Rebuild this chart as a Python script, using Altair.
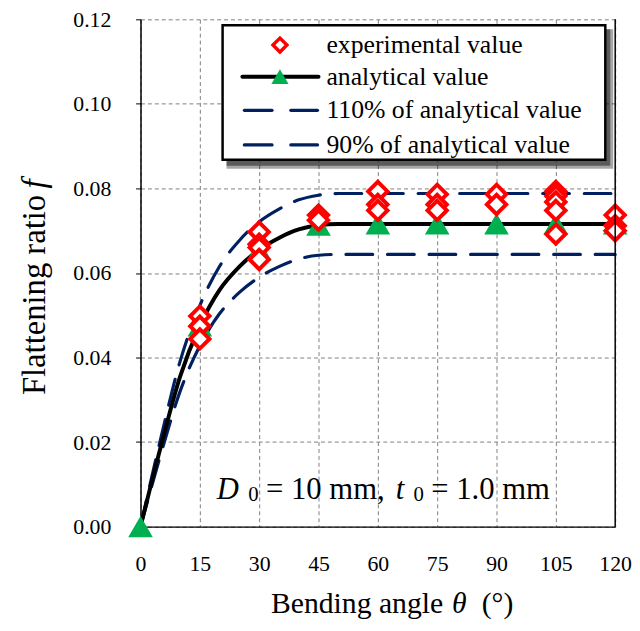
import altair as alt
import pandas as pd

# ---------------- data ----------------
theta_exp = [15, 15, 15, 30, 30, 30, 30, 45, 45, 60, 60, 60, 75, 75, 75,
             90, 90, 105, 105, 105, 105, 105, 120, 120, 120]
f_exp = [0.0498, 0.0474, 0.0444, 0.0697, 0.0668, 0.0660, 0.0632, 0.0737, 0.0725,
         0.0793, 0.0762, 0.0748, 0.0786, 0.0762, 0.0748, 0.0786, 0.0762,
         0.0793, 0.0782, 0.0768, 0.0748, 0.0692, 0.0737, 0.0712, 0.0700]

theta_curve = [0, 5, 10, 15, 20, 25, 30, 35, 40, 45, 50, 55, 60, 75, 90, 105, 120]
f_analytical = [0.0, 0.0185, 0.0355, 0.0475, 0.0560, 0.0615, 0.0655, 0.0683, 0.0703,
                0.0713, 0.0716, 0.0716, 0.0716, 0.0716, 0.0716, 0.0716, 0.0716]
f_110 = [0.0, 0.0204, 0.0391, 0.0523, 0.0616, 0.0677, 0.0721, 0.0751, 0.0773,
         0.0784, 0.0788, 0.0788, 0.0788, 0.0788, 0.0788, 0.0788, 0.0788]
f_90 = [0.0, 0.0167, 0.0320, 0.0428, 0.0504, 0.0554, 0.0590, 0.0615, 0.0633,
        0.0642, 0.0644, 0.0644, 0.0644, 0.0644, 0.0644, 0.0644, 0.0644]

theta_tri = [0, 15, 30, 45, 60, 75, 90, 105, 120]
f_tri = [0.0, 0.0475, 0.0655, 0.0713, 0.0716, 0.0716, 0.0716, 0.0716, 0.0716]

x_ticks = [0, 15, 30, 45, 60, 75, 90, 105, 120]
y_ticks = [0.00, 0.02, 0.04, 0.06, 0.08, 0.10, 0.12]

legend_labels = ["experimental value", "analytical value",
                 "110% of analytical value", "90% of analytical value"]

FONT = "Liberation Serif, Times New Roman, serif"
NAVY = "#002060"
GREEN = "#00B050"
RED = "#FF0000"

W, H = 480, 513

xs = alt.Scale(domain=[0, 120], nice=False, zero=False)
ys = alt.Scale(domain=[0, 0.12], nice=False, zero=False)

x_axis = alt.Axis(values=x_ticks, grid=True, gridDash=[4, 3], gridColor="#7f7f7f",
                  gridWidth=1, domainColor="black", domainWidth=1.5, ticks=False,
                  labelFont=FONT, labelFontSize=22, labelColor="black",
                  labelPadding=27, title=None, labelFlush=False)
y_axis = alt.Axis(values=y_ticks, format=".2f", grid=True, gridDash=[4, 3],
                  gridColor="#7f7f7f", gridWidth=1, domainColor="black",
                  domainWidth=1.5, tickSize=5, tickColor="black",
                  labelFont=FONT, labelFontSize=22, labelColor="black",
                  labelPadding=25, title=None)

X = lambda: alt.X("theta:Q", scale=xs, axis=x_axis)
Y = lambda: alt.Y("f:Q", scale=ys, axis=y_axis)

df_curve = pd.DataFrame({"theta": theta_curve, "a": f_analytical,
                         "u": f_110, "l": f_90})
df_exp = pd.DataFrame({"theta": theta_exp, "f": f_exp})
df_tri = pd.DataFrame({"theta": theta_tri, "f": f_tri})
one = pd.DataFrame({"k": [0]})

upper = alt.Chart(df_curve).mark_line(
    color=NAVY, strokeWidth=3.2, strokeDash=[27, 15], strokeCap="round",
    interpolate="monotone").encode(x=X(), y=alt.Y("u:Q", scale=ys, axis=y_axis))
lower = alt.Chart(df_curve).mark_line(
    color=NAVY, strokeWidth=3.2, strokeDash=[27, 15], strokeCap="round",
    interpolate="monotone").encode(x=X(), y=alt.Y("l:Q", scale=ys, axis=y_axis))
anal = alt.Chart(df_curve).mark_line(
    color="black", strokeWidth=4, interpolate="monotone").encode(
    x=X(), y=alt.Y("a:Q", scale=ys, axis=y_axis))
tri = alt.Chart(df_tri).mark_point(
    shape="triangle-up", filled=True, color=GREEN, size=620, opacity=1).encode(
    x=X(), y=Y())
exp = alt.Chart(df_exp).mark_point(
    shape="diamond", filled=True, fill="white", stroke=RED, strokeWidth=4,
    size=380, opacity=1, fillOpacity=1).encode(x=X(), y=Y())

right_border = alt.Chart(one).mark_rule(color="black", strokeWidth=1.5).encode(
    x=alt.value(W), y=alt.value(0), y2=alt.value(H))

# ---------------- legend (drawn manually) ----------------
LX1, LX2, LY1, LY2 = 83, 470, 6, 142
shadow1 = alt.Chart(one).mark_rect(color="#000000", opacity=0.35).encode(
    x=alt.value(LX1 + 4), x2=alt.value(LX2 + 8), y=alt.value(LY1 + 4), y2=alt.value(LY2 + 9))
shadow2 = alt.Chart(one).mark_rect(color="#000000", opacity=0.45).encode(
    x=alt.value(LX1 + 4), x2=alt.value(LX2 + 5), y=alt.value(LY1 + 4), y2=alt.value(LY2 + 6))
box = alt.Chart(one).mark_rect(fill="white", stroke="black", strokeWidth=2.5).encode(
    x=alt.value(LX1), x2=alt.value(LX2), y=alt.value(LY1), y2=alt.value(LY2))

rows = [26, 58, 92, 127]
sx = 141
leg_dia = alt.Chart(one).mark_point(
    shape="diamond", filled=True, fill="white", stroke=RED, strokeWidth=3.4,
    size=200, opacity=1).encode(x=alt.value(sx), y=alt.value(rows[0]))
leg_line = alt.Chart(one).mark_rule(color="black", strokeWidth=4, strokeCap="round").encode(
    x=alt.value(103), x2=alt.value(180), y=alt.value(rows[1]))
leg_tri = alt.Chart(one).mark_point(
    shape="triangle-up", filled=True, color=GREEN, size=300, opacity=1).encode(
    x=alt.value(sx), y=alt.value(rows[1]))
leg_dashes = []
for r in rows[2:]:
    for a, b in [(105, 133), (152, 179)]:
        leg_dashes.append(alt.Chart(one).mark_rule(
            color=NAVY, strokeWidth=3.2, strokeCap="round").encode(
            x=alt.value(a), x2=alt.value(b), y=alt.value(r)))
leg_text = alt.Chart(pd.DataFrame({"label": legend_labels, "yy": rows})).mark_text(
    font=FONT, fontSize=26, align="left", baseline="middle", color="black").encode(
    x=alt.value(188), y=alt.Y("yy:Q", scale=None), text="label:N")

# ---------------- annotation ----------------
AY = 476
def txt(s, x, size=31, style="normal", dy=0):
    return alt.Chart(one).mark_text(
        text=s, font=FONT, fontSize=size, fontStyle=style, align="left",
        baseline="middle", color="black", dy=dy).encode(
        x=alt.value(x), y=alt.value(AY))

ann = [txt("D", 77, style="italic"), txt("0", 109, size=21, dy=5),
       txt("= 10 mm,", 127), txt("t", 258, style="italic"),
       txt("0", 276, size=21, dy=5), txt("= 1.0 mm", 294)]

# ---------------- axis titles ----------------
def title_piece(s, x, y, align, size=30, style="normal", angle=0):
    return alt.Chart(one).mark_text(
        text=s, font=FONT, fontSize=size, fontStyle=style, align=align,
        baseline="middle", color="black", angle=angle).encode(
        x=alt.value(x), y=alt.value(y))

TY = 591
xt = [title_piece("Bending angle", 306, TY, "right"),
      title_piece("\u03b8", 315, TY, "left", style="italic"),
      title_piece("(\u00b0)", 345, TY, "left")]
yt = [title_piece("Flattening ratio", -107, 380, "left", size=33, angle=270),
      title_piece("f", -107, 171, "left", size=33, style="italic", angle=270)]

chart = alt.layer(
    upper, lower, anal, tri, exp, right_border,
    shadow1, shadow2, box, leg_dia, leg_line, leg_tri, *leg_dashes, leg_text,
    *ann, *xt, *yt
).properties(
    width=W, height=H,
    autosize=alt.AutoSizeParams(type="none"),
    padding={"left": 134, "top": 8, "right": 17, "bottom": 95}
).configure_view(stroke=None)

chart.save("out.html", embed_options={"renderer": "svg", "actions": False})
